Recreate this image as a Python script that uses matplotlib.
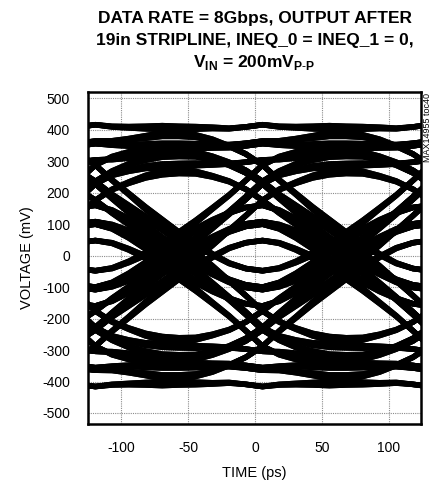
import itertools
import numpy as np
import matplotlib
matplotlib.use("Agg")
import matplotlib.pyplot as plt
from matplotlib.collections import LineCollection

UI_PS = 125.0           # 8 Gbps
CENTER_PS = 5.5         # eye centre (crossings at -57 / +68 ps)
STEP_PS = 12.5          # sample spacing of the pulse response
PULSE_T0_PS = -250.0    # time of first pulse sample (rel. to bit centre)
# single-bit pulse response after 19in stripline (mV), every 12.5 ps
PULSE_MV = [
    0, 1, 2, 4, 6, 9, 13, 19, 28, 43,
    64, 85, 106, 128, 149, 168, 186, 201, 214, 225,
    232, 225, 214, 201, 186, 168, 149, 128, 106, 85,
    64, 48, 40, 35, 33, 32, 31, 31, 30, 30,
    30, 29, 29, 28, 28, 27, 27, 27, 26, 26,
    26, 23, 19, 15, 11, 7, 4, 2, 1, 0,
]
FIRST_BIT = -4          # oldest bit that still reaches the screen
N_BITS = 7              # bits b_-4 .. b_2

X_TICKS = [-100, -50, 0, 50, 100]
Y_TICKS = [-500, -400, -300, -200, -100, 0, 100, 200, 300, 400, 500]
X_LIM = (-125, 124)
Y_LIM = (-535, 520)

TITLE_LINES = [
    "DATA RATE = 8Gbps, OUTPUT AFTER",
    "19in STRIPLINE, INEQ_0 = INEQ_1 = 0,",
    r"V$_{\mathbf{IN}}$ = 200mV$_{\mathbf{P\text{-}P}}$",
]
X_LABEL = "TIME (ps)"
Y_LABEL = "VOLTAGE (mV)"
TAG = "MAX14955 toc40"


def eye_traces():
    p = np.array(PULSE_MV, dtype=float)
    m = np.arange(-11, 12)
    t_rel = m * STEP_PS
    segs = []
    for bits in itertools.product([-1, 1], repeat=N_BITS):
        v = np.zeros(len(t_rel))
        for i, b in enumerate(bits):
            n = FIRST_BIT + i
            idx = np.round((t_rel - n * UI_PS - PULSE_T0_PS) / STEP_PS).astype(int)
            ok = (idx >= 0) & (idx < len(p))
            v[ok] += b * p[idx[ok]]
        segs.append(np.column_stack([CENTER_PS + t_rel, v]))
    return segs


def main():
    plt.rcParams["font.family"] = ["Liberation Sans", "DejaVu Sans"]
    plt.rcParams["axes.unicode_minus"] = False
    plt.rcParams["mathtext.fontset"] = "custom"
    plt.rcParams["mathtext.rm"] = "Liberation Sans"
    plt.rcParams["mathtext.bf"] = "Liberation Sans:bold"

    fig = plt.figure(figsize=(4.33, 4.86), dpi=100)
    ax = fig.add_axes([88 / 433, 1 - 424 / 486, 333 / 433, 332 / 486])

    lc = LineCollection(eye_traces(), colors="black", linewidths=4.0,
                        capstyle="round", joinstyle="round", zorder=3)
    ax.add_collection(lc)

    ax.set_xlim(*X_LIM)
    ax.set_ylim(*Y_LIM)
    ax.set_xticks(X_TICKS)
    ax.set_yticks(Y_TICKS)
    ax.tick_params(length=0, labelsize=10, colors="black")
    ax.tick_params(axis="y", pad=13)
    ax.tick_params(axis="x", pad=12)
    ax.grid(True, color="0.55", linestyle=(0, (1, 1)), linewidth=0.8, zorder=1)
    for s in ax.spines.values():
        s.set_linewidth(1.8)

    ax.set_xlabel(X_LABEL, fontsize=10.5, labelpad=8)
    ax.set_ylabel(Y_LABEL, fontsize=10.5, labelpad=6)

    for y, line in zip([0.961, 0.916, 0.872], TITLE_LINES):
        fig.text(254.5 / 433, y, line, ha="center", va="center",
                 fontsize=12.5, fontweight="bold")

    fig.text(428 / 433, 1 - 93 / 486, TAG, rotation=90, ha="center",
             va="top", fontsize=6.5)

    fig.savefig("out.png", dpi=100)


if __name__ == "__main__":
    main()
